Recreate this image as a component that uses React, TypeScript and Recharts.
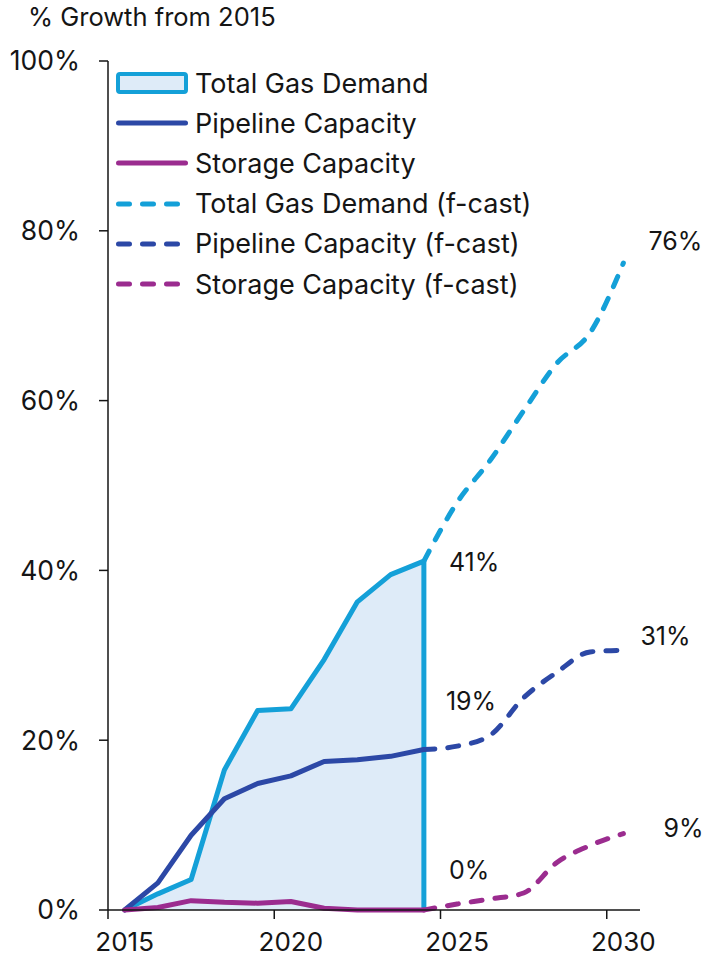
import React from "react";
import {
  ComposedChart,
  Area,
  Line,
  XAxis,
  YAxis,
  Legend,
  LabelList,
} from "recharts";

// actuals, % growth from 2015
const HIST_YEARS = [2015, 2016, 2017, 2018, 2019, 2020, 2021, 2022, 2023, 2024];
const DEMAND_HIST = [0, 1.9, 3.6, 16.5, 23.5, 23.7, 29.5, 36.3, 39.5, 41.1];
const PIPELINE_HIST = [0, 3.2, 8.8, 13.1, 14.9, 15.8, 17.5, 17.7, 18.1, 18.9];
const STORAGE_HIST = [0, 0.3, 1.1, 0.9, 0.8, 1.0, 0.2, 0, 0, 0];

// forecasts
const FCST_YEARS = [2024, 2025, 2026, 2027, 2028, 2029, 2030];
const DEMAND_FCST = [41.1, 48.0, 53.0, 58.8, 64.4, 68.0, 76.2];
const PIPELINE_FCST = [18.9, 19.3, 20.6, 25.0, 28.0, 30.4, 30.6];
const STORAGE_FCST = [0, 0.7, 1.3, 2.0, 5.6, 7.6, 9.0];

const X_TICKS = [2015, 2020, 2025, 2030];
const Y_TICKS = [0, 20, 40, 60, 80, 100];

const BLUE = "#14a0d8";
const BLUE_FILL = "#deebf8";
const NAVY = "#2c48a6";
const PURPLE = "#9b2c8f";
const INK = "#151515";
const FONT = "Inter, 'Noto Sans', sans-serif";
const DASH = "11 13";

const W = 723;
const H = 959;
const MARGIN = { top: 61, right: 83, left: 0, bottom: 0 };
const Y_AXIS_W = 108;
const X_AXIS_H = 49;
const HALF_YEAR = (W - MARGIN.right - Y_AXIS_W) / 16 / 2;

const rows = (years: number[], values: number[]) =>
  years.map((year, i) => ({ year, value: values[i] }));

// area closes straight down to zero at the last actual year
const demandArea = [
  ...rows(HIST_YEARS, DEMAND_HIST),
  { year: HIST_YEARS[HIST_YEARS.length - 1], value: 0 },
];

const LEGEND_ITEMS = [
  { name: "Total Gas Demand", color: BLUE, kind: "area" },
  { name: "Pipeline Capacity", color: NAVY, kind: "solid" },
  { name: "Storage Capacity", color: PURPLE, kind: "solid" },
  { name: "Total Gas Demand (f-cast)", color: BLUE, kind: "dash" },
  { name: "Pipeline Capacity (f-cast)", color: NAVY, kind: "dash" },
  { name: "Storage Capacity (f-cast)", color: PURPLE, kind: "dash" },
];

function LegendList() {
  return (
    <div style={{ fontFamily: FONT, fontSize: 27, color: INK }}>
      {LEGEND_ITEMS.map((item) => (
        <div
          key={item.name}
          style={{ display: "flex", alignItems: "center", height: 40.2 }}
        >
          <svg width={76} height={26} style={{ flexShrink: 0 }}>
            {item.kind === "area" ? (
              <rect
                x={4}
                y={4}
                width={68}
                height={18}
                rx={2}
                fill={BLUE_FILL}
                stroke={item.color}
                strokeWidth={4}
              />
            ) : (
              <line
                x1={4.5}
                x2={item.kind === "dash" ? 67 : 71.5}
                y1={13}
                y2={13}
                stroke={item.color}
                strokeWidth={5}
                strokeLinecap="round"
                strokeDasharray={item.kind === "dash" ? DASH : undefined}
              />
            )}
          </svg>
          <span style={{ marginLeft: 5, whiteSpace: "nowrap", lineHeight: 1 }}>
            {item.name}
          </span>
        </div>
      ))}
    </div>
  );
}

function YearTick(props: any) {
  const { x, y, payload } = props;
  return (
    <g>
      <line
        x1={x - HALF_YEAR}
        x2={x - HALF_YEAR}
        y1={y}
        y2={y + 9}
        stroke={INK}
        strokeWidth={1.5}
      />
      <text
        x={x}
        y={y + 41}
        textAnchor="middle"
        fill={INK}
        fontSize={26}
        fontFamily={FONT}
      >
        {payload.value}
      </text>
    </g>
  );
}

const endLabel = (index: number, dx: number, dy: number) => (props: any) => {
  if (props.index !== index) return null;
  return (
    <text
      x={Number(props.x) + dx}
      y={Number(props.y) + dy}
      dominantBaseline="central"
      fill={INK}
      fontSize={25}
      fontFamily={FONT}
    >
      {`${Math.round(Number(props.value))}%`}
    </text>
  );
};

export default function App() {
  return (
    <div style={{ position: "absolute", left: 0, top: 0, width: W, height: H, background: "#fff" }}>
      <div
        style={{
          position: "absolute",
          left: 28,
          top: 4,
          fontFamily: FONT,
          fontSize: 25.5,
          color: INK,
          lineHeight: "26px",
          whiteSpace: "nowrap",
        }}
      >
        % Growth from 2015
      </div>
      <ComposedChart width={W} height={H} margin={MARGIN}>
        <XAxis
          dataKey="year"
          type="number"
          domain={[2014.5, 2030.5]}
          ticks={X_TICKS}
          allowDataOverflow
          height={X_AXIS_H}
          tickLine={false}
          tickSize={0}
          tickMargin={0}
          tick={<YearTick />}
          axisLine={{ stroke: INK, strokeWidth: 1.5 }}
        />
        <YAxis
          type="number"
          domain={[0, 100]}
          ticks={Y_TICKS}
          width={Y_AXIS_W}
          tickSize={9}
          tickMargin={19}
          tickFormatter={(v: number) => `${v}%`}
          tick={{ fill: INK, fontSize: 26.5, fontFamily: FONT }}
          tickLine={{ stroke: INK, strokeWidth: 1.5 }}
          axisLine={{ stroke: INK, strokeWidth: 1.5 }}
        />
        <Legend
          layout="vertical"
          align="center"
          verticalAlign="middle"
          wrapperStyle={{ top: 63, left: 114, width: "auto", height: "auto" }}
          content={() => <LegendList />}
        />
        <Area
          data={demandArea}
          dataKey="value"
          type="linear"
          fill={BLUE_FILL}
          fillOpacity={1}
          stroke={BLUE}
          strokeWidth={5}
          strokeLinejoin="round"
          isAnimationActive={false}
          dot={false}
          activeDot={false}
        >
          <LabelList dataKey="value" content={endLabel(9, 25, 1)} />
        </Area>
        <Line
          data={rows(FCST_YEARS, DEMAND_FCST)}
          dataKey="value"
          type="monotone"
          stroke={BLUE}
          strokeWidth={5}
          strokeLinecap="round"
          strokeDasharray={DASH}
          dot={false}
          isAnimationActive={false}
        >
          <LabelList dataKey="value" content={endLabel(6, 25, -22)} />
        </Line>
        <Line
          data={rows(FCST_YEARS, PIPELINE_FCST)}
          dataKey="value"
          type="monotone"
          stroke={NAVY}
          strokeWidth={5}
          strokeLinecap="round"
          strokeDasharray={DASH}
          dot={false}
          isAnimationActive={false}
        >
          <LabelList dataKey="value" content={endLabel(6, 17, -14)} />
        </Line>
        <Line
          data={rows(FCST_YEARS, STORAGE_FCST)}
          dataKey="value"
          type="monotone"
          stroke={PURPLE}
          strokeWidth={5}
          strokeLinecap="round"
          strokeDasharray={DASH}
          dot={false}
          isAnimationActive={false}
        >
          <LabelList dataKey="value" content={endLabel(6, 40, -6)} />
        </Line>
        <Line
          data={rows(HIST_YEARS, PIPELINE_HIST)}
          dataKey="value"
          type="linear"
          stroke={NAVY}
          strokeWidth={5}
          strokeLinejoin="round"
          strokeLinecap="round"
          dot={false}
          isAnimationActive={false}
        >
          <LabelList dataKey="value" content={endLabel(9, 22, -49)} />
        </Line>
        <Line
          data={rows(HIST_YEARS, STORAGE_HIST)}
          dataKey="value"
          type="linear"
          stroke={PURPLE}
          strokeWidth={5}
          strokeLinejoin="round"
          strokeLinecap="round"
          dot={false}
          isAnimationActive={false}
        >
          <LabelList dataKey="value" content={endLabel(9, 25, -40)} />
        </Line>
      </ComposedChart>
    </div>
  );
}
